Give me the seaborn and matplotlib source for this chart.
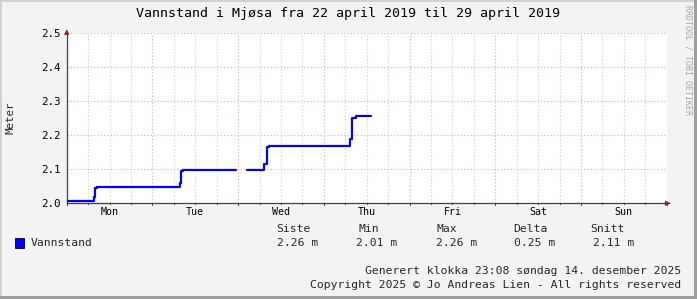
import numpy as np
import pandas as pd
import matplotlib
matplotlib.use("Agg")
import matplotlib.pyplot as plt
import seaborn as sns
from matplotlib.patches import Rectangle
from matplotlib.ticker import FixedLocator, FuncFormatter

# ---------------- data ----------------
title = "Vannstand i Mjøsa fra 22 april 2019 til 29 april 2019"
series_name = "Vannstand"
y_label = "Meter"
day_labels = ["Mon", "Tue", "Wed", "Thu", "Fri", "Sat", "Sun"]
y_ticks = [2.0, 2.1, 2.2, 2.3, 2.4, 2.5]

# hours since Mon 22 april 00:00, water level in metres (two segments, gap between)
seg1_hours = [0.0, 7.65, 7.9, 8.5, 31.7, 31.9, 32.6, 47.3]
seg1_level = [2.008, 2.02, 2.045, 2.048, 2.06, 2.095, 2.099, 2.099]
seg2_hours = [50.6, 55.3, 56.0, 56.7, 79.3, 79.8, 81.0, 85.1]
seg2_level = [2.099, 2.115, 2.165, 2.168, 2.19, 2.25, 2.257, 2.257]

stat_labels = ["Siste", "Min", "Max", "Delta", "Snitt"]
stat_values = ["2.26 m", "2.01 m", "2.26 m", "0.25 m", "2.11 m"]
footer_lines = ["Generert klokka 23:08 søndag 14. desember 2025",
                "Copyright 2025 © Jo Andreas Lien - All rights reserved"]
watermark = "RRDTOOL / TOBI OETIKER"

df = pd.DataFrame({
    "hour": seg1_hours + seg2_hours,
    "level": seg1_level + seg2_level,
    "seg": [1] * len(seg1_hours) + [2] * len(seg2_hours),
})

# ---------------- figure ----------------
sns.set_style("white")
plt.rcParams["font.family"] = ["DejaVu Sans Mono", "DejaVu Sans"]

W, H = 697, 299
BG = "#F3F3F3"
fig = plt.figure(figsize=(W / 100, H / 100), dpi=100, facecolor=BG)


def fx(x):
    return x / W


def fy(y):
    return 1 - y / H


# frame
fig.add_artist(Rectangle((0, fy(2)), 1, 2 / H, transform=fig.transFigure, color="#D0D0D0", lw=0))
fig.add_artist(Rectangle((0, 0), 2 / W, 1, transform=fig.transFigure, color="#D0D0D0", lw=0))
fig.add_artist(Rectangle((0, 0), 1, 3 / H, transform=fig.transFigure, color="#9E9E9E", lw=0))
fig.add_artist(Rectangle((fx(W - 3), 0), 3 / W, 1, transform=fig.transFigure, color="#9E9E9E", lw=0))

left, right, top, bottom = 66.7, 666.7, 33.3, 203.3
ax = fig.add_axes([fx(left), fy(bottom), (right - left) / W, (bottom - top) / H])
ax.set_facecolor("white")

sns.lineplot(data=df, x="hour", y="level", units="seg", estimator=None,
             drawstyle="steps-post", color="#0000FF", lw=1.6, ax=ax, legend=False, zorder=5)

# grid
for h in np.arange(6, 168, 6):
    if h % 24 == 0:
        ax.axvline(h, color="#E0A8A8", lw=0.8, ls=(0, (1, 2)), zorder=1)
    else:
        ax.axvline(h, color="#CCCCCC", lw=0.8, ls=(0, (1, 2)), zorder=1)
ax.axvline(168, color="#E0A8A8", lw=0.8, ls=(0, (1, 2)), zorder=1)
for v in y_ticks[1:]:
    ax.axhline(v, color="#E0A8A8", lw=0.8, ls=(0, (1, 2)), zorder=1)

# small tick marks on x axis
for h in np.arange(0, 169, 6):
    ax.plot([h, h], [0, -0.012 if h % 24 == 0 else -0.006], transform=ax.get_xaxis_transform(),
            color="#404040", lw=0.8, clip_on=False, scalex=False, scaley=False)

ax.set_xlim(0, 168)
ax.set_ylim(2.0, 2.5)

ax.xaxis.set_major_locator(FixedLocator([12 + 24 * i for i in range(7)]))
ax.xaxis.set_major_formatter(FuncFormatter(lambda v, p: day_labels[int(round((v - 12) / 24))]))
ax.tick_params(axis="x", length=0, pad=3, colors="black", labelsize=7.2)
ax.yaxis.set_major_locator(FixedLocator(y_ticks))
ax.yaxis.set_major_formatter(FuncFormatter(lambda v, p: f"{v:.1f}"))
ax.tick_params(axis="y", length=0, pad=4, colors="black", labelsize=7.8)

for s in ["top", "right"]:
    ax.spines[s].set_visible(False)
for s in ["left", "bottom"]:
    ax.spines[s].set_color("#404040")
    ax.spines[s].set_linewidth(0.9)

# arrows
ax.annotate("", xy=(0, 1.04), xycoords="axes fraction", xytext=(0, 0.99),
            arrowprops=dict(arrowstyle="-|>", color="#902020", lw=0.8, mutation_scale=7), annotation_clip=False)
ax.annotate("", xy=(1.011, 0), xycoords="axes fraction", xytext=(1.0, 0),
            arrowprops=dict(arrowstyle="-|>", color="#902020", lw=0.8, mutation_scale=7), annotation_clip=False)

ax.set_xlabel("")
ax.set_ylabel("")

# texts
fig.text(fx(348.5), fy(14), title, ha="center", va="center", fontsize=9.6, color="black")
fig.text(fx(11), fy(118), y_label, ha="center", va="center", rotation=90, fontsize=7.8)
fig.text(fx(688), fy(5), watermark, ha="center", va="top", rotation=270, fontsize=6, color="#A8A8A8")

# legend
fig.add_artist(Rectangle((fx(15), fy(248)), 9 / W, 10 / H, transform=fig.transFigure,
                         facecolor="#0000FF", edgecolor="black", lw=0.6))
fig.text(fx(30.5), fy(243), series_name, ha="left", va="center", fontsize=8.2)

header_x = [276, 359, 436.5, 513, 590]
value_x = [277, 356.5, 436, 514, 593]
for lab, x in zip(stat_labels, header_x):
    fig.text(fx(x), fy(228.5), lab, ha="left", va="center", fontsize=8.2)
for val, x in zip(stat_values, value_x):
    fig.text(fx(x), fy(243.3), val, ha="left", va="center", fontsize=8.2)

fig.text(fx(681), fy(271), footer_lines[0], ha="right", va="center", fontsize=8.2)
fig.text(fx(681), fy(285), footer_lines[1], ha="right", va="center", fontsize=8.2)

fig.savefig("out.png", dpi=100, facecolor=BG)
